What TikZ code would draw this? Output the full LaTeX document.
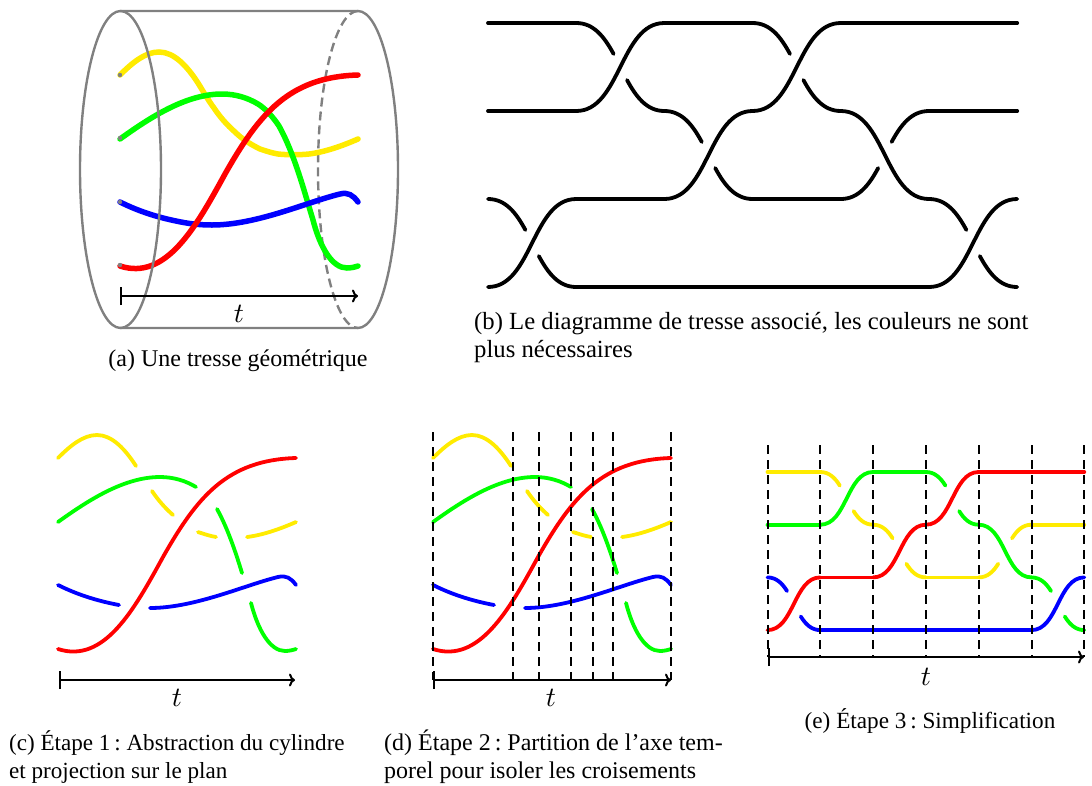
\documentclass[tikz,border=0pt]{standalone}
\usepackage{fontspec}
\setmainfont{Liberation Serif}
\usetikzlibrary{arrows.meta}

\definecolor{cjaune}{RGB}{255,235,0}
\definecolor{cvert}{RGB}{0,255,0}
\definecolor{cbleu}{RGB}{0,0,255}
\definecolor{crouge}{RGB}{255,0,0}

\tikzset{
  legende/.style={font=\fontsize{#1}{28}\selectfont,align=left,inner sep=0pt},
  legende/.default=24,
  temps/.style={scale=2.8,inner sep=0pt},
  axe/.style={{Bar[width=18pt]}-{To[length=6pt,width=13pt]},line width=2pt},
  coupe/.style={line width=2pt,dash pattern=on 9pt off 6pt},
  cyl/.style={gray,line width=2.4pt},
  brin/.style={line width=3.8pt,line cap=round},
}

% brins entiers, repere de la figure (c)
\def\brinsentiers{
    \draw[brin,cjaune] (58,458) .. controls (70,446) and (83,435) .. (97,435) .. controls (112,435) and (125,449) .. (136,466)
        .. controls (141,474) and (146,483) .. (152,491) .. controls (158,500) and (165,508) .. (173,515)
        .. controls (181,523) and (190,528) .. (198,532) .. controls (204,534) and (210,536) .. (216,537)
        .. controls (226,538) and (237,538) .. (247,537) .. controls (263,535) and (280,529) .. (296,522);
    \draw[brin,cvert] (58,522) .. controls (90,499) and (125,477) .. (160,477) .. controls (174,477) and (186,481) .. (196,487)
        .. controls (204,492) and (211,500) .. (217,509) .. controls (227,527) and (235,550) .. (242,573)
        .. controls (245,583) and (248,593) .. (251,603) .. controls (258,630) and (270,651) .. (285,651)
        .. controls (289,651) and (293,650) .. (296,649);
    \draw[brin,cbleu] (58,585) .. controls (78,595) and (98,601) .. (119,605) .. controls (129,607) and (139,608) .. (150,608)
        .. controls (195,608) and (245,585) .. (278,577) .. controls (286,575) and (291,578) .. (296,585);
    \draw[brin,crouge] (58,649) .. controls (104,664) and (134,610) .. (163,557) .. controls (197,497) and (227,460) .. (296,458);
}
% les memes avec les passages dessous coupes
\def\brinscoupes{
    \draw[brin,cjaune] (58,458) .. controls (70,446) and (83,435) .. (97,435) .. controls (112,435) and (125,449) .. (136,466);
    \draw[brin,cjaune] (152,491) .. controls (158,500) and (165,508) .. (173,515);
    \draw[brin,cjaune] (198,532) .. controls (204,534) and (210,536) .. (216,537);
    \draw[brin,cjaune] (247,537) .. controls (263,535) and (280,529) .. (296,522);
    \draw[brin,cvert] (58,522) .. controls (90,499) and (125,477) .. (160,477) .. controls (174,477) and (186,481) .. (196,487);
    \draw[brin,cvert] (217,509) .. controls (227,527) and (235,550) .. (242,573);
    \draw[brin,cvert] (251,603) .. controls (258,630) and (270,651) .. (285,651) .. controls (289,651) and (293,650) .. (296,649);
    \draw[brin,cbleu] (58,585) .. controls (78,595) and (98,601) .. (119,605);
    \draw[brin,cbleu] (150,608) .. controls (195,608) and (245,585) .. (278,577) .. controls (286,575) and (291,578) .. (296,585);
    \draw[brin,crouge] (58,649) .. controls (104,664) and (134,610) .. (163,557) .. controls (197,497) and (227,460) .. (296,458);
}
% taille de la coupure
\def\ca{.2}\def\cb{.32}\def\cc{.16}\def\ex{.424}\def\ey{.352}
% croisement : #1 couleur, #2 colonne, #3 niveau de depart, #4 niveau d'arrivee
\newcommand{\dessus}[4]{\draw[brin,#1] (#2,#3) .. controls (#2+.5,#3) and (#2+.5,#4) .. (#2+1,#4);}
\newcommand{\dessous}[4]{
    \draw[brin,#1] (#2,#3) .. controls (#2+\ca,#3) and (#2+\cb,{#3+\cc*(#4-#3)}) .. (#2+\ex,{#3+\ey*(#4-#3)});
    \draw[brin,#1] (#2+1-\ex,{#4-\ey*(#4-#3)}) .. controls (#2+1-\cb,{#4-\cc*(#4-#3)}) and (#2+1-\ca,#4) .. (#2+1,#4);
}
\newcommand{\droit}[4]{\draw[brin,#1] (#2,#3)--(#4,#3);}
\def\diagramme{
    \droit{cjaune}{0}{0}{1}
    \droit{cvert}{0}{1}{1}
    \dessous{cbleu}{0}{2}{3}
    \dessus{crouge}{0}{3}{2}
    \dessous{cjaune}{1}{0}{1}
    \dessus{cvert}{1}{1}{0}
    \droit{crouge}{1}{2}{2}
    \droit{cbleu}{1}{3}{5}
    \droit{cvert}{2}{0}{3}
    \dessous{cjaune}{2}{1}{2}
    \dessus{crouge}{2}{2}{1}
    \dessous{cvert}{3}{0}{1}
    \dessus{crouge}{3}{1}{0}
    \droit{cjaune}{3}{2}{4}
    \droit{crouge}{4}{0}{6}
    \dessous{cjaune}{4}{2}{1}
    \dessus{cvert}{4}{1}{2}
    \droit{cjaune}{5}{1}{6}
    \dessous{cvert}{5}{2}{3}
    \dessus{cbleu}{5}{3}{2}
}

\begin{document}
\begin{tikzpicture}[x=1pt,y=-1pt]
    \useasboundingbox (0,0) rectangle (1092,785);

    % (a) le cylindre et la tresse
    \draw[cyl,dash pattern=on 9pt off 5pt] (358,11) arc (90:270:40pt and 158.5pt);
    \draw[cyl] (120,11)--(358,11) arc (90:-90:40pt and 158.5pt)--(120,328);
    \begin{scope}[shift={(62,-383)},brin/.append style={line width=5.5pt}]
        \brinsentiers
    \end{scope}
    \foreach \y in {75,138,202,265}{
        \fill[gray] (120,\y) circle(2.2pt);
    }
    \draw[cyl] (120.5,169.5) ellipse (40.5pt and 158.5pt);
    \draw[axe] (120,296)--(358,296);
    \node[temps] (ta) at (239,314) {$t$};
    \node[legende] (lega) at (238,361) {(a) Une tresse géométrique};

    % (b) le diagramme
    \begin{scope}[shift={(488,23)},x=88.2pt,y=-88pt]
        \colorlet{cjaune}{black}
        \colorlet{cvert}{black}
        \colorlet{cbleu}{black}
        \colorlet{crouge}{black}
        \diagramme
    \end{scope}
    \node[legende=24.7,anchor=north west] (legb) at (474,312) {(b) Le diagramme de tresse associé, les couleurs ne sont\\plus nécessaires};

    % (c) projection
    \brinscoupes
    \draw[axe] (59,680)--(295,680);
    \node[temps] (tc) at (177,698) {$t$};
    \node[legende=23.1,anchor=north west] (legc) at (9,730) {(c) Étape 1\,:~Abstraction du cylindre\\et projection sur le plan};

    % (d) partition
    \begin{scope}[shift={(375,0)}]
        \brinscoupes
    \end{scope}
    \foreach \x in {433,513,539,571,593,613,671}{
        \draw[coupe] (\x,432)--(\x,680);
    }
    \draw[axe] (433,680)--(671,680);
    \node[temps] (td) at (551,698) {$t$};
    \node[legende,anchor=north west] (legd) at (384,730) {(d) Étape 2\,:~Partition de l’axe tem-\\porel pour isoler les croisements};

    % (e) simplification
    \begin{scope}[shift={(767.5,472)},x=52.8pt,y=-52.7pt]
        \def\ca{.167}\def\cb{.278}\def\cc{.111}\def\ex{.37}\def\ey{.259}
        \diagramme
    \end{scope}
    \foreach \x in {767.5,820,873,926,979,1032,1084}{
        \draw[coupe] (\x,445)--(\x,657);
    }
    \draw[axe] (768,657)--(1084,657);
    \node[temps] (te) at (926,677) {$t$};
    \node[legende=23.2] (lege) at (930,721) {(e) Étape 3\,:~Simplification};
\end{tikzpicture}
\end{document}
